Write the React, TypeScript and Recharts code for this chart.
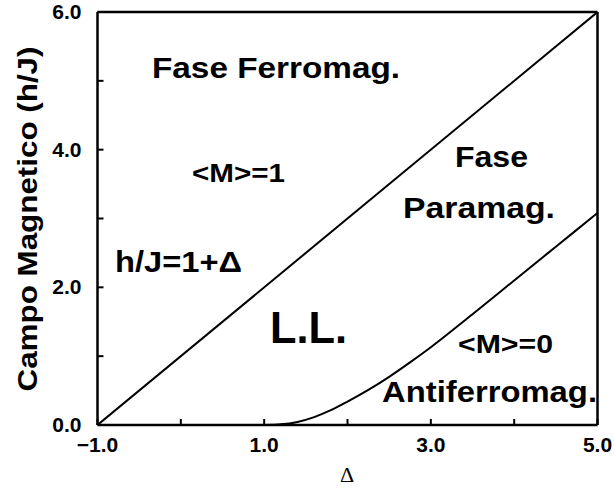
import { LineChart, Line, XAxis, YAxis, ReferenceLine, ReferenceDot } from "recharts";

const FONT = "'Liberation Sans', Arial, Helvetica, sans-serif";

// boundary h/J = 1 + Δ
const upperDelta = [-1, 5];
const upperField = [0, 6];

// lower critical field
const lowerDelta = [1.0, 1.2, 1.4, 1.6, 1.8, 2.0, 2.25, 2.5, 2.75, 3.0, 3.5, 4.0, 4.5, 5.0];
const lowerField = [0, 0.01, 0.045, 0.115, 0.215, 0.34, 0.51, 0.7, 0.91, 1.13, 1.61, 2.1, 2.59, 3.08];

const xTicks = [-1, 0, 1, 2, 3, 4, 5];
const yTicks = [0, 1, 2, 3, 4, 5, 6];
const xTickLabels: Record<number, string> = { [-1]: "\u22121.0", 1: "1.0", 3: "3.0", 5: "5.0" };
const yTickLabels: Record<number, string> = { 0: "0.0", 2: "2.0", 4: "4.0", 6: "6.0" };

const regionTexts = ["Fase Ferromag.", "<M>=1", "h/J=1+\u0394", "L.L.", "Fase", "Paramag.", "<M>=0", "Antiferromag."];

const upperData = upperDelta.map((d, i) => ({ d, h: upperField[i] }));
const lowerData = lowerDelta.map((d, i) => ({ d, h: lowerField[i] }));

// where each text sits (baseline centre, data units) and how big it is
const notePlace = [
  { x: 1.142, y: 5.041, size: 30, len: 248 },
  { x: 0.692, y: 3.53, size: 26, len: 93 },
  { x: -0.028, y: 2.223, size: 29, len: 127 },
  { x: 1.532, y: 1.191, size: 44, len: 77 },
  { x: 3.728, y: 3.748, size: 30, len: 73 },
  { x: 3.578, y: 3.007, size: 30, len: 152 },
  { x: 3.896, y: 1.046, size: 26, len: 95 },
  { x: 3.704, y: 0.334, size: 30, len: 215 },
];

const XTick = (props: any) => {
  const { x, y, payload } = props;
  const label = xTickLabels[payload.value];
  return (
    <g>
      <line x1={x} y1={y} x2={x} y2={y - 6} stroke="#000" strokeWidth={2} />
      {label && (
        <text x={x} y={y + 27} textAnchor="middle" fontFamily={FONT} fontWeight={700} fontSize={21} fill="#000">
          {label}
        </text>
      )}
    </g>
  );
};

const YTick = (props: any) => {
  const { x, y, payload } = props;
  const label = yTickLabels[payload.value];
  return (
    <g>
      <line x1={x} y1={y} x2={x + 6} y2={y} stroke="#000" strokeWidth={2} />
      {label && (
        <text x={x - 16} y={y + 7} textAnchor="end" fontFamily={FONT} fontWeight={700} fontSize={21} fill="#000">
          {label}
        </text>
      )}
    </g>
  );
};

function renderNote(text: string, i: number) {
  const p = notePlace[i];
  return (
    <ReferenceDot
      key={text + i}
      x={p.x}
      y={p.y}
      r={1}
      fill="none"
      stroke="none"
      label={{
        content: (lp: any) => {
          const vb = lp.viewBox;
          const cx = vb.x + vb.width / 2;
          const cy = vb.y + vb.height / 2;
          return (
            <text
              x={cx}
              y={cy}
              textAnchor="middle"
              fontFamily={FONT}
              fontWeight={700}
              fontSize={p.size}
              textLength={p.len}
              lengthAdjust="spacingAndGlyphs"
              fill="#000"
            >
              {text}
            </text>
          );
        },
      }}
    />
  );
}

export default function App() {
  return (
    <div style={{ position: "absolute", left: 0, top: 0, width: 614, height: 488, background: "#fff" }}>
      <LineChart width={614} height={488} margin={{ top: 12, right: 16.5, bottom: 0, left: 0 }}>
        <XAxis
          type="number"
          dataKey="d"
          domain={[-1, 5]}
          ticks={xTicks}
          allowDataOverflow
          height={63}
          tickLine={false}
          tickSize={0}
          tickMargin={0}
          tick={<XTick />}
          axisLine={{ stroke: "#000", strokeWidth: 2.5 }}
          label={{
            content: () => (
              <text x={347} y={482} textAnchor="middle" fontFamily="'Liberation Serif', 'DejaVu Serif', serif" fontSize={22} fill="#000">
                {"\u0394"}
              </text>
            ),
          }}
        />
        <YAxis
          type="number"
          domain={[0, 6]}
          ticks={yTicks}
          allowDataOverflow
          width={97.5}
          tickLine={false}
          tickSize={0}
          tickMargin={0}
          tick={<YTick />}
          axisLine={{ stroke: "#000", strokeWidth: 2.5 }}
          label={{
            content: () => (
              <text
                x={37}
                y={219}
                transform="rotate(-90 37 219)"
                textAnchor="middle"
                fontFamily={FONT}
                fontWeight={700}
                fontSize={28}
                textLength={345}
                lengthAdjust="spacingAndGlyphs"
                fill="#000"
              >
                {"Campo Magnetico  (h/J)"}
              </text>
            ),
          }}
        />
        <ReferenceLine y={6} stroke="#000" strokeWidth={2.5} />
        <ReferenceLine x={5} stroke="#000" strokeWidth={2.5} />
        <Line data={upperData} dataKey="h" type="linear" stroke="#000" strokeWidth={2} dot={false} isAnimationActive={false} />
        <Line data={lowerData} dataKey="h" type="monotone" stroke="#000" strokeWidth={2} dot={false} isAnimationActive={false} />
        {regionTexts.map((t, i) => renderNote(t, i))}
      </LineChart>
    </div>
  );
}
